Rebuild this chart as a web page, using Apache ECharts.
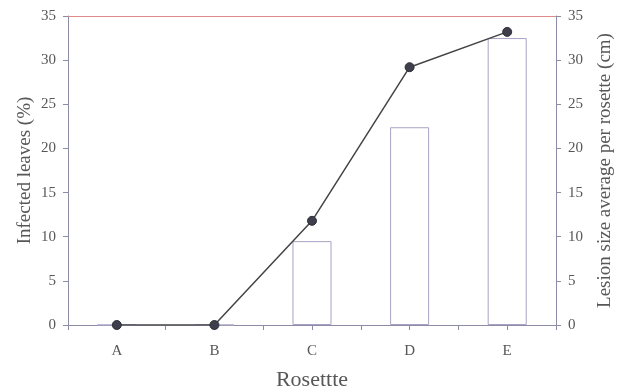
<!DOCTYPE html>
<html>
<head>
<meta charset="utf-8">
<script src="https://cdn.jsdelivr.net/npm/echarts@6/dist/echarts.min.js"></script>
<style>
  html, body { margin: 0; padding: 0; background: #fff; }
  #chart { width: 621px; height: 389px; }
</style>
</head>
<body>
<div id="chart"></div>
<script>
// Rosette categories and measured values
const categories = ['A', 'B', 'C', 'D', 'E'];
const infectedLeaves = [0, 0, 9.5, 22.4, 32.5];   // bars, left axis (%)
const lesionSize = [0, 0, 11.8, 29.2, 33.2];      // line, right axis (cm)
const yTicks = [0, 5, 10, 15, 20, 25, 30, 35];

const serif = '"Liberation Serif", "DejaVu Serif", serif';
const textColor = '#575757';
const axisColor = '#8c8ca6';

const chart = echarts.init(document.getElementById('chart'), null, { renderer: 'canvas' });

const yAxisBase = {
  type: 'value',
  min: yTicks[0],
  max: yTicks[yTicks.length - 1],
  interval: yTicks[1] - yTicks[0],
  splitLine: { show: false },
  axisLine: { show: true, lineStyle: { color: axisColor, width: 1 } },
  axisTick: { show: true, length: 5, lineStyle: { color: axisColor } },
  axisLabel: { color: textColor, fontFamily: serif, fontSize: 15, margin: 12 },
  nameLocation: 'middle',
  nameRotate: 90,
  nameMoveOverlap: false,
  nameTextStyle: { color: textColor, fontFamily: serif, fontSize: 19 }
};

chart.setOption({
  animation: false,
  backgroundColor: '#fff',
  grid: { left: 68, right: 65, top: 16, bottom: 64, containLabel: false, outerBoundsMode: 'none' },
  xAxis: [
    {
      type: 'category',
      data: categories,
      boundaryGap: true,
      axisLine: { show: true, lineStyle: { color: axisColor, width: 1 } },
      axisTick: { show: true, length: 5, interval: 0, lineStyle: { color: axisColor } },
      axisLabel: { color: textColor, fontFamily: serif, fontSize: 15, margin: 19 },
      name: 'Rosettte',
      nameLocation: 'middle',
      nameGap: 44,
      nameMoveOverlap: false,
      nameTextStyle: { color: textColor, fontFamily: serif, fontSize: 22 }
    },
    {
      type: 'category',
      data: categories,
      position: 'bottom',
      boundaryGap: true,
      axisLine: { show: false },
      axisTick: { show: true, length: 5, alignWithLabel: true, lineStyle: { color: axisColor } },
      axisLabel: { show: false }
    }
  ],
  yAxis: [
    Object.assign({}, yAxisBase, {
      position: 'left',
      name: 'Infected leaves (%)',
      nameGap: 33
    }),
    Object.assign({}, yAxisBase, {
      position: 'right',
      name: 'Lesion size average per rosette (cm)',
      nameGap: 40
    })
  ],
  series: [
    {
      name: 'Infected leaves',
      type: 'bar',
      yAxisIndex: 0,
      data: infectedLeaves,
      barWidth: '40%',
      itemStyle: { color: '#fff', borderColor: '#aaa2c6', borderWidth: 1 },
      markLine: {
        silent: true,
        symbol: 'none',
        label: { show: false },
        lineStyle: { color: '#e08a8a', type: 'solid', width: 1 },
        data: [{ yAxis: yTicks[yTicks.length - 1] }]
      }
    },
    {
      name: 'Lesion size',
      type: 'line',
      yAxisIndex: 1,
      data: lesionSize,
      symbol: 'circle',
      symbolSize: 9,
      lineStyle: { color: '#444', width: 1.5 },
      itemStyle: { color: '#3e3e4c', borderColor: '#2f2f3a', borderWidth: 1 },
      z: 5
    }
  ]
});
</script>
</body>
</html>
